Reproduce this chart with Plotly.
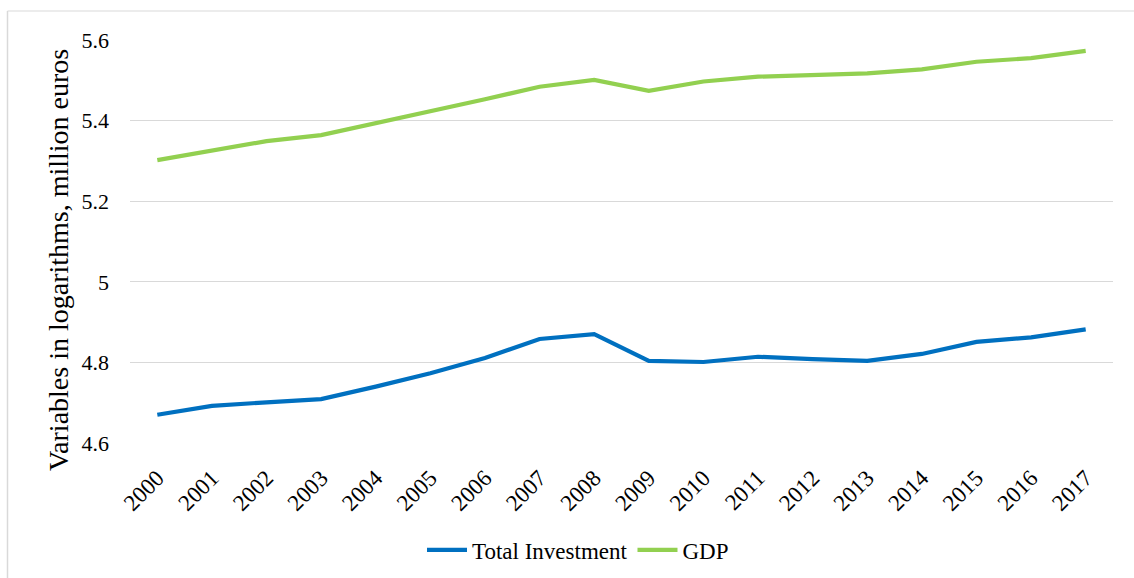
import plotly.graph_objects as go

years = [str(y) for y in range(2000, 2018)]
total_investment = [4.670, 4.692, 4.701, 4.709, 4.740, 4.773, 4.811, 4.858, 4.870,
                    4.804, 4.801, 4.814, 4.808, 4.804, 4.821, 4.851, 4.862, 4.882]
gdp = [5.302, 5.325, 5.349, 5.364, 5.393, 5.422, 5.453, 5.484, 5.501,
       5.474, 5.497, 5.509, 5.513, 5.517, 5.527, 5.546, 5.555, 5.573]

W, H = 1134, 578
L, R, T, B = 130, 21, 40, 135
pw, ph = W - L - R, H - T - B


def px_x(p):
    return (p - L) / pw


def px_y(p):
    return (H - B - p) / ph


font_family = "Times New Roman, Liberation Serif, serif"

fig = go.Figure()
fig.add_trace(go.Scatter(x=years, y=total_investment, mode="lines", name="Total Investment",
                         line=dict(color="#0070C0", width=4.2)))
fig.add_trace(go.Scatter(x=years, y=gdp, mode="lines", name="GDP",
                         line=dict(color="#92D050", width=4.2)))

fig.update_layout(
    width=W, height=H,
    margin=dict(l=L, r=R, t=T, b=B, pad=0, autoexpand=False),
    paper_bgcolor="white", plot_bgcolor="white",
    font=dict(family=font_family, size=22, color="black"),
    showlegend=True,
    legend=dict(orientation="h", x=px_x(578), xanchor="center", y=px_y(550), yanchor="middle",
                font=dict(family=font_family, size=23), itemwidth=40, bgcolor="rgba(0,0,0,0)"),
    xaxis=dict(type="category", range=[-0.5, 17.5], tickangle=-45, showgrid=False,
               showline=False, zeroline=False, ticks="", ticklabelstandoff=16,
               automargin=False, tickfont=dict(family=font_family, size=23)),
    yaxis=dict(range=[4.6, 5.6], dtick=0.2, tick0=4.6, showgrid=True, gridcolor="#d9d9d9",
               gridwidth=1, zeroline=False, showline=False, ticks="", ticklabelstandoff=20,
               automargin=False, tickfont=dict(family=font_family, size=22)),
    annotations=[dict(text="Variables in logarithms, million euros", xref="paper", yref="paper",
                      x=px_x(58), y=px_y(260), textangle=-90, showarrow=False,
                      xanchor="center", yanchor="middle",
                      font=dict(family=font_family, size=28))],
    shapes=[
        dict(type="line", xref="paper", yref="paper", x0=px_x(7.5), x1=px_x(W + 5),
             y0=px_y(11), y1=px_y(11), line=dict(color="#d9d9d9", width=1)),
        dict(type="line", xref="paper", yref="paper", x0=px_x(7.5), x1=px_x(7.5),
             y0=px_y(11), y1=px_y(H + 5), line=dict(color="#d9d9d9", width=1.5)),
    ],
)

fig.write_html("out.html")
